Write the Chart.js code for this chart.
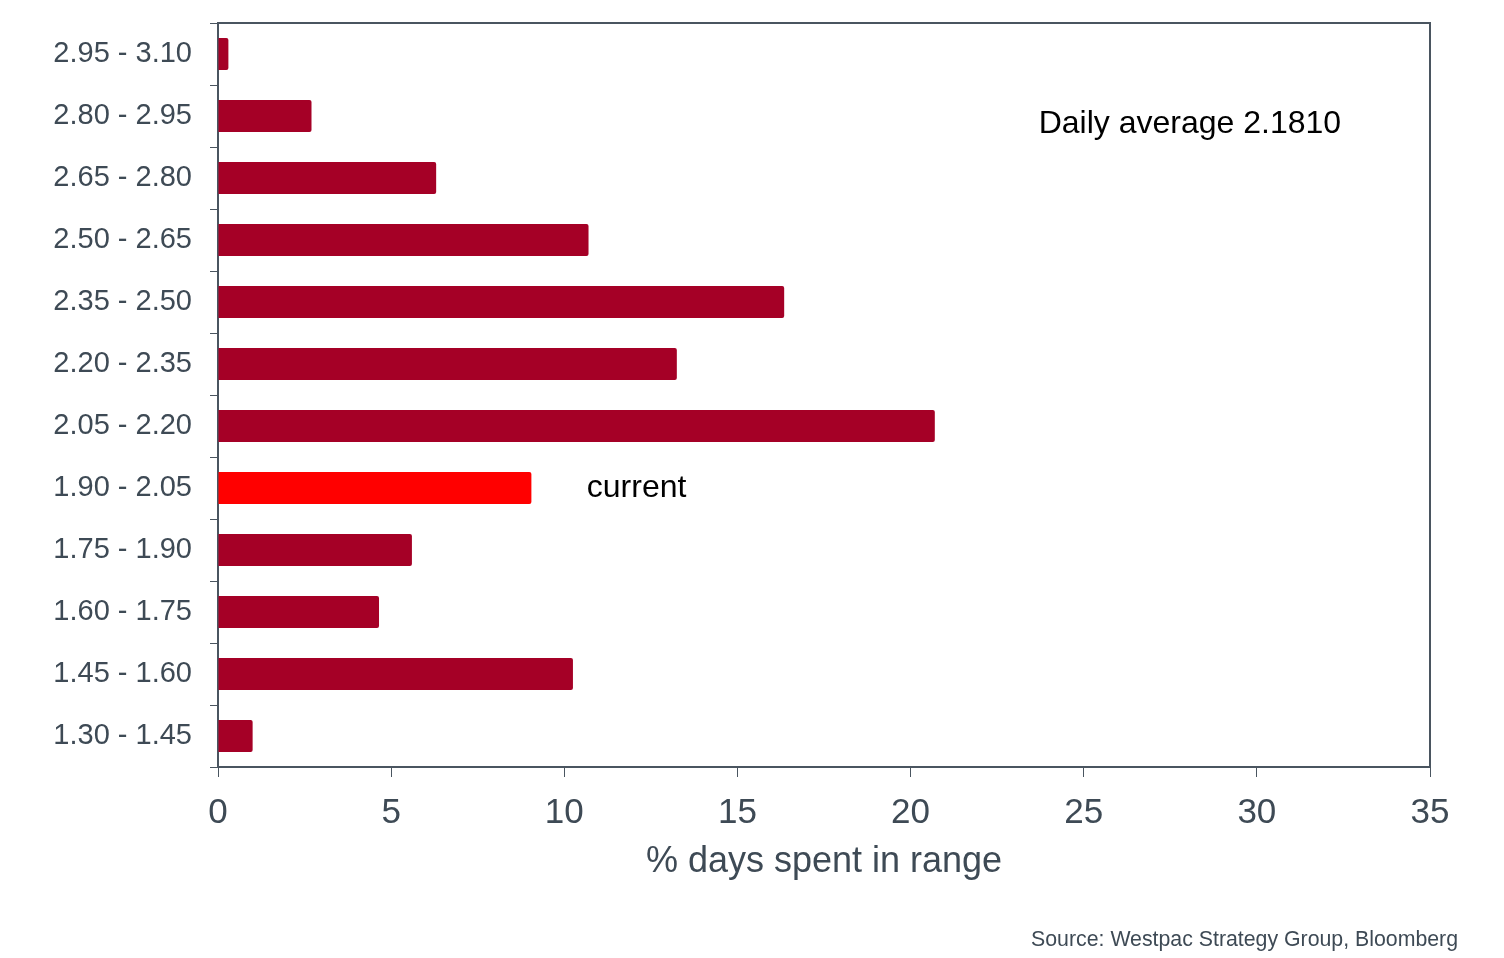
<!DOCTYPE html>
<html>
<head>
<meta charset="utf-8">
<script src="https://cdn.jsdelivr.net/npm/chart.js@4.4.1/dist/chart.umd.min.js"></script>
<style>
  html, body { margin: 0; padding: 0; background: #fff; }
  #wrap { width: 1504px; height: 958px; position: relative; }
</style>
</head>
<body>
<div id="wrap"><canvas id="rangeChart"></canvas></div>
<script>
// ranges, top to bottom
const ranges = ["2.95 - 3.10", "2.80 - 2.95", "2.65 - 2.80", "2.50 - 2.65", "2.35 - 2.50", "2.20 - 2.35",
  "2.05 - 2.20", "1.90 - 2.05", "1.75 - 1.90", "1.60 - 1.75", "1.45 - 1.60", "1.30 - 1.45"];
const pctDays = [0.3, 2.7, 6.3, 10.7, 16.35, 13.25, 20.7, 9.05, 5.6, 4.65, 10.25, 1.0];
const currentRange = "1.90 - 2.05";
const xTicks = [0, 5, 10, 15, 20, 25, 30, 35];

const axisColor = "#4a5560";
const textColor = "#3e4a55";
const barColors = ranges.map(r => r === currentRange ? "#ff0000" : "#a50026");

// frame + text notes
const notes = {
  id: "notes",
  afterDraw(chart) {
    const ctx = chart.ctx, a = chart.chartArea;
    const x = chart.scales.x, y = chart.scales.y;
    ctx.save();
    ctx.strokeStyle = axisColor;
    ctx.lineWidth = 2;
    ctx.beginPath();
    ctx.moveTo(a.left, a.top);
    ctx.lineTo(a.right, a.top);
    ctx.lineTo(a.right, a.bottom);
    ctx.stroke();

    ctx.fillStyle = "#000";
    ctx.font = "32px 'Liberation Sans', Arial, sans-serif";
    ctx.textBaseline = "middle";
    ctx.textAlign = "left";
    ctx.fillText("Daily average 2.1810", x.getPixelForValue(23.7), y.getPixelForValue(1) + 8);
    ctx.fillText("current", x.getPixelForValue(10.65), y.getPixelForValue(ranges.indexOf(currentRange)));

    ctx.fillStyle = textColor;
    ctx.font = "21.3px 'Liberation Sans', Arial, sans-serif";
    ctx.textAlign = "right";
    ctx.textBaseline = "alphabetic";
    ctx.fillText("Source: Westpac Strategy Group, Bloomberg", 1458, 946);
    ctx.restore();
  }
};

new Chart(document.getElementById("rangeChart"), {
  type: "bar",
  data: {
    labels: ranges,
    datasets: [{
      data: pctDays,
      backgroundColor: barColors,
      borderRadius: 2,
      borderSkipped: "start",
      categoryPercentage: 1,
      barPercentage: 0.52
    }]
  },
  options: {
    indexAxis: "y",
    responsive: true,
    maintainAspectRatio: false,
    animation: false,
    layout: { padding: { top: 23, right: 74, left: 0, bottom: 74 } },
    plugins: { legend: { display: false }, tooltip: { enabled: false } },
    scales: {
      x: {
        min: 0,
        max: 35,
        afterBuildTicks(s) { s.ticks = xTicks.map(v => ({ value: v })); },
        afterFit(s) { s.height = 117; },
        border: { color: axisColor, width: 2 },
        grid: { drawOnChartArea: false, color: axisColor, tickLength: 10, lineWidth: 1 },
        ticks: {
          color: textColor,
          font: { family: "'Liberation Sans', Arial, sans-serif", size: 35 },
          padding: 15
        },
        title: {
          display: true,
          text: "% days spent in range",
          color: textColor,
          font: { family: "'Liberation Sans', Arial, sans-serif", size: 36 },
          padding: { top: 0, bottom: 0 }
        }
      },
      y: {
        afterFit(s) { s.width = 218; s.paddingTop = 0; s.paddingBottom = 0; },
        border: { color: axisColor, width: 2 },
        grid: { offset: true, drawOnChartArea: false, color: axisColor, tickLength: 8, lineWidth: 1 },
        ticks: {
          color: textColor,
          font: { family: "'Liberation Sans', Arial, sans-serif", size: 29 },
          padding: 18
        }
      }
    }
  },
  plugins: [notes]
});
</script>
</body>
</html>
